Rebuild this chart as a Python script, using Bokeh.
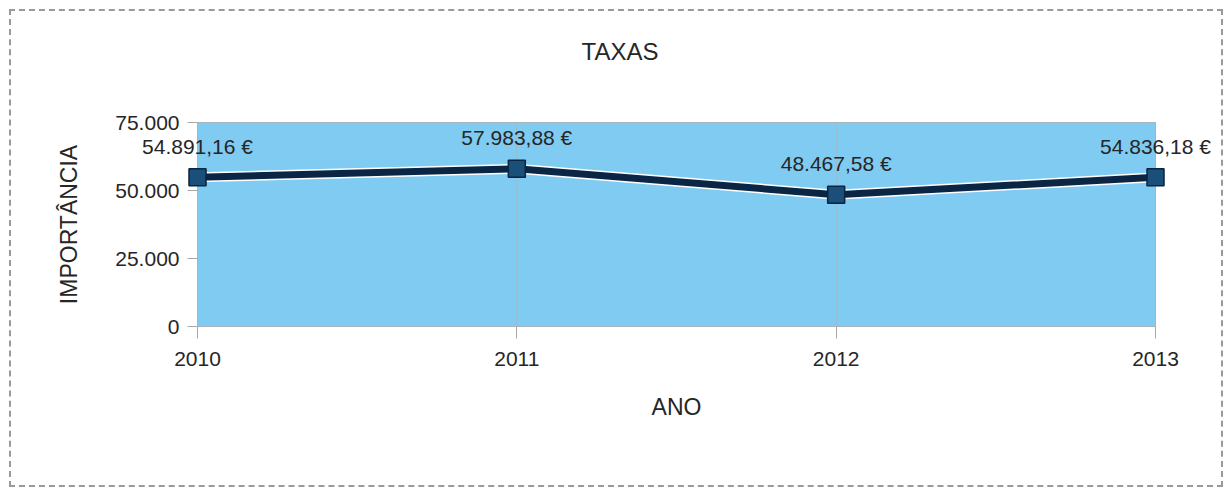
from bokeh.plotting import figure
from bokeh.models import ColumnDataSource, FixedTicker, Title
from bokeh.core.properties import value
from bokeh.embed import file_html
from bokeh.resources import INLINE

# ---- data ----
years = [2010, 2011, 2012, 2013]
values = [54891.16, 57983.88, 48467.58, 54836.18]
y_ticks = [0, 25000, 50000, 75000]
y_tick_labels = ["0", "25.000", "50.000", "75.000"]
title_text = "TAXAS"
x_title = "ANO"
y_title = "IMPORTÂNCIA"


def fmt_eur(v):
    s = f"{v:,.2f}"  # 54,891.16
    s = s.replace(",", "X").replace(".", ",").replace("X", ".")
    return s + " €"


labels = [fmt_eur(v) for v in values]
src = ColumnDataSource(dict(x=years, y=values, label=labels))

FONT = "Liberation Sans"
TXT = "#262626"

p = figure(
    width=1214, height=478,
    x_range=(years[0], years[-1]), y_range=(y_ticks[0], y_ticks[-1]),
    output_backend="svg", toolbar_location=None,
    min_border_left=186, min_border_right=70,
    min_border_top=111, min_border_bottom=163,
)
p.styles = {"border": "2px dashed #9a9a9a", "margin-left": "9px", "margin-top": "9px"}

# spacer between frame and title, then the title (centred on whole chart)
p.add_layout(Title(text=" ", text_font=FONT, text_font_size="24px",
                   standoff=24), "above")
p.add_layout(Title(text=title_text, align="left", offset=384,
                   text_font=FONT, text_font_size="24px",
                   text_font_style="normal", text_color=TXT,
                   standoff=10), "above")

p.background_fill_color = "#80cbf1"
p.border_fill_color = "white"
p.outline_line_color = "#a8b4bc"

# axes
p.xaxis.ticker = FixedTicker(ticks=years)
p.yaxis.ticker = FixedTicker(ticks=y_ticks)
p.yaxis.major_label_overrides = {t: l for t, l in zip(y_ticks, y_tick_labels)}
for ax in (p.xaxis[0], p.yaxis[0]):
    ax.major_label_text_font = FONT
    ax.major_label_text_font_size = "21px"
    ax.major_label_text_color = TXT
    ax.axis_label_text_font = FONT
    ax.axis_label_text_font_size = "23px"
    ax.axis_label_text_font_style = "normal"
    ax.axis_label_text_color = TXT
    ax.axis_line_color = "#a8b4bc"
    ax.major_tick_line_color = "#a8a8a8"
    ax.minor_tick_line_color = None
    ax.major_tick_in = 0

p.xaxis.axis_label = x_title
p.yaxis.axis_label = y_title
p.xaxis.major_tick_out = 12
p.yaxis.major_tick_out = 10
p.xaxis.major_label_standoff = 13
p.yaxis.major_label_standoff = 8
p.xaxis.axis_label_standoff = 25
p.yaxis.axis_label_standoff = 30

p.xgrid.grid_line_color = "#9fb6c6"
p.xgrid.grid_line_alpha = 0.7
p.ygrid.grid_line_color = None

# series
p.line("x", "y", source=src, line_color="white", line_width=10, level="overlay")
p.line("x", "y", source=src, line_color="#0b2545", line_width=7, level="overlay")
p.scatter("x", "y", source=src, marker="square", size=17,
          fill_color="#1a4f7a", line_color="#0a2540", line_width=1.5,
          level="overlay")

p.text("x", "y", text="label", source=src, y_offset=-31,
       text_align="center", text_baseline="middle",
       text_font=value(FONT), text_font_size="21px", text_color=TXT,
       level="overlay")

open("out.html", "w").write(file_html(p, INLINE))
